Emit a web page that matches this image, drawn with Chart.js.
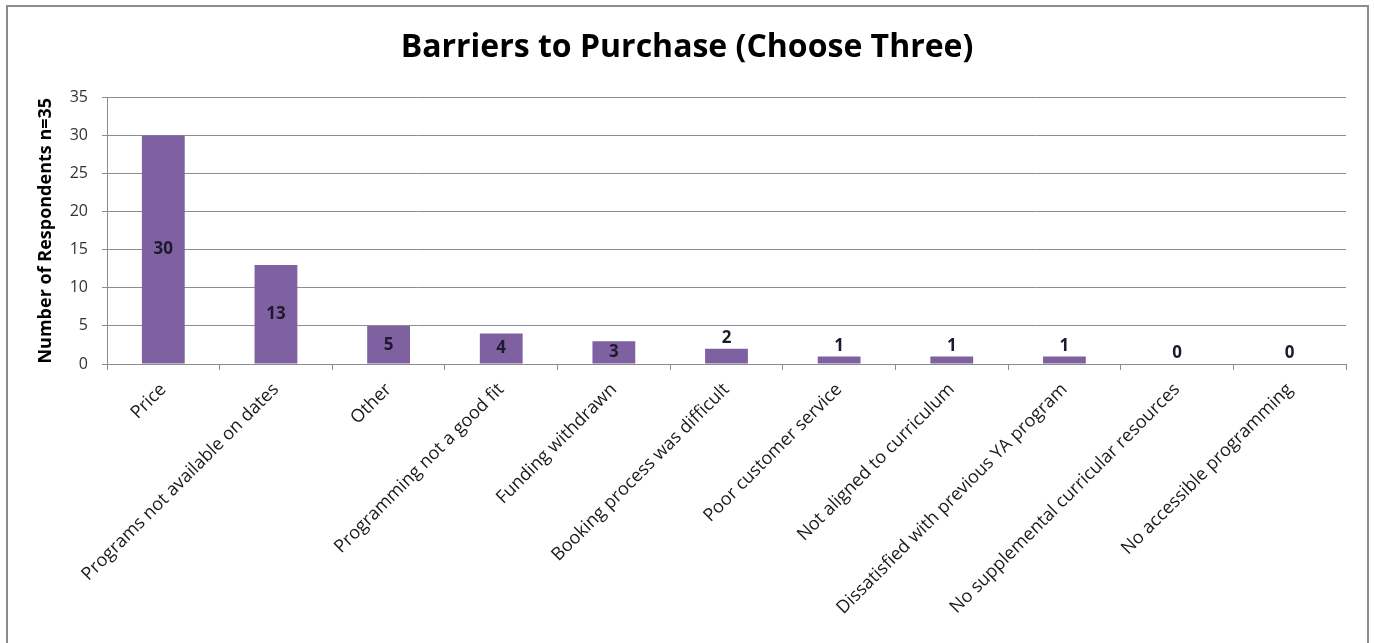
<!DOCTYPE html>
<html>
<head>
<meta charset="utf-8">
<script src="https://cdn.jsdelivr.net/npm/chart.js@4/dist/chart.umd.min.js"></script>
<style>
  html, body { margin: 0; padding: 0; background: #fff; }
  #wrap { position: relative; width: 1374px; height: 643px; }
</style>
</head>
<body>
<div id="wrap"><canvas id="barChart" width="1374" height="643"></canvas></div>
<script>
const categories = [
  "Price",
  "Programs not available on dates",
  "Other",
  "Programming not a good fit",
  "Funding withdrawn",
  "Booking process was difficult",
  "Poor customer service",
  "Not aligned to curriculum",
  "Dissatisfied with previous YA program",
  "No supplemental curricular resources",
  "No accessible programming"
];
const respondents = [30, 13, 5, 4, 3, 2, 1, 1, 1, 0, 0];
const yTicks = { min: 0, max: 35, step: 5 };

const FONT = "'Open Sans', 'Noto Sans', sans-serif";

// white background plus the grey frame around the chart
const framePlugin = {
  id: "frame",
  beforeDraw(chart) {
    const ctx = chart.ctx;
    ctx.save();
    ctx.fillStyle = "#fff";
    ctx.fillRect(0, 0, chart.width, chart.height);
    ctx.strokeStyle = "#8c8c8c";
    ctx.lineWidth = 2;
    ctx.beginPath();
    ctx.moveTo(7, chart.height);
    ctx.lineTo(7, 6);
    ctx.lineTo(1368, 6);
    ctx.lineTo(1368, chart.height);
    ctx.stroke();
    ctx.restore();
  }
};

// value labels: inside the bar when it is tall enough, otherwise above it
const valueLabels = {
  id: "valueLabels",
  afterDatasetsDraw(chart) {
    const ctx = chart.ctx;
    const meta = chart.getDatasetMeta(0);
    const data = chart.data.datasets[0].data;
    ctx.save();
    ctx.font = "bold 17px " + FONT;
    ctx.fillStyle = "#1d1a2c";
    ctx.textAlign = "center";
    meta.data.forEach((bar, i) => {
      const v = data[i];
      if (v >= 3) {
        ctx.textBaseline = "middle";
        ctx.fillText(String(v), bar.x, (bar.y + bar.base) / 2);
      } else {
        ctx.textBaseline = "bottom";
        ctx.fillText(String(v), bar.x, bar.y - 2);
      }
    });
    ctx.restore();
  }
};

new Chart(document.getElementById("barChart"), {
  type: "bar",
  data: {
    labels: categories,
    datasets: [{
      data: respondents,
      backgroundColor: "#7f60a1",
      barPercentage: 0.38,
      categoryPercentage: 1
    }]
  },
  options: {
    responsive: false,
    animation: false,
    // equal side padding keeps the title centred on the canvas
    layout: { padding: { top: 0, right: 28, bottom: 0, left: 28 } },
    plugins: {
      legend: { display: false },
      tooltip: { enabled: false },
      title: {
        display: true,
        text: "Barriers to Purchase (Choose Three)",
        color: "#000",
        font: { family: FONT, size: 32, weight: "bold" },
        padding: { top: 29, bottom: 30 }
      }
    },
    scales: {
      x: {
        afterFit(scale) { scale.height = 643 - 364; },
        border: { display: true, color: "#8c8c8c", width: 1 },
        grid: {
          display: true,
          offset: true,
          drawOnChartArea: false,
          drawTicks: true,
          tickLength: 6,
          color: "#8c8c8c"
        },
        ticks: {
          autoSkip: false,
          minRotation: 45,
          maxRotation: 45,
          padding: 9,
          color: "#1a1a1a",
          font: { family: FONT, size: 18 }
        }
      },
      y: {
        min: yTicks.min,
        max: yTicks.max,
        afterFit(scale) { scale.width = 107 - 28; },
        border: { display: true, color: "#8c8c8c", width: 1 },
        grid: {
          color: "#8c8c8c",
          lineWidth: 1,
          drawTicks: true,
          tickLength: 5
        },
        ticks: {
          stepSize: yTicks.step,
          padding: 14,
          color: "#333",
          font: { family: FONT, size: 16 }
        },
        title: {
          display: true,
          text: "Number of Respondents n=35",
          color: "#000",
          font: { family: FONT, size: 18, weight: "bold" },
          padding: { top: 7, bottom: 0 }
        }
      }
    }
  },
  plugins: [framePlugin, valueLabels]
});
</script>
</body>
</html>
